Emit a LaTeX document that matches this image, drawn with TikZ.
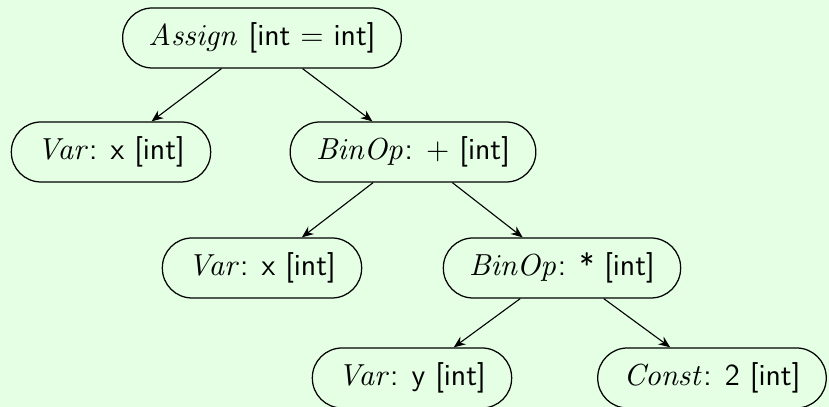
\documentclass[tikz,border=0pt]{standalone}
\usetikzlibrary{arrows.meta}
\definecolor{bg}{rgb}{0.9,1,0.9}
\begin{document}
\begin{tikzpicture}[x=0.36pt,y=-0.36pt,
  treenode/.style={rectangle, rounded corners=10.7pt, draw, line width=0.45pt, minimum height=21.6pt, inner xsep=9.3pt, font=\fontsize{11}{13.5}\selectfont\sffamily},
  edge/.style={-{Stealth[length=4.2pt,width=3.4pt]}, line width=0.4pt}]
\fill[bg] (0,0) rectangle (829,407);
\useasboundingbox (0,0) rectangle (829,407);
\node[treenode] (assign) at (262,38) {$\mathit{Assign}$ [int = int]};
\node[treenode] (var1) at (111,152) {$\mathit{Var}$: x [int]};
\node[treenode] (plus) at (413,152) {$\mathit{BinOp}$: + [int]};
\node[treenode] (var2) at (262,268) {$\mathit{Var}$: x [int]};
\node[treenode] (times) at (562,268) {$\mathit{BinOp}$: * [int]};
\node[treenode] (var3) at (412,378) {$\mathit{Var}$: y [int]};
\node[treenode] (const) at (712,378) {$\mathit{Const}$: 2 [int]};
\draw[edge] (assign) -- (var1);
\draw[edge] (assign) -- (plus);
\draw[edge] (plus) -- (var2);
\draw[edge] (plus) -- (times);
\draw[edge] (times) -- (var3);
\draw[edge] (times) -- (const);
\end{tikzpicture}
\end{document}
